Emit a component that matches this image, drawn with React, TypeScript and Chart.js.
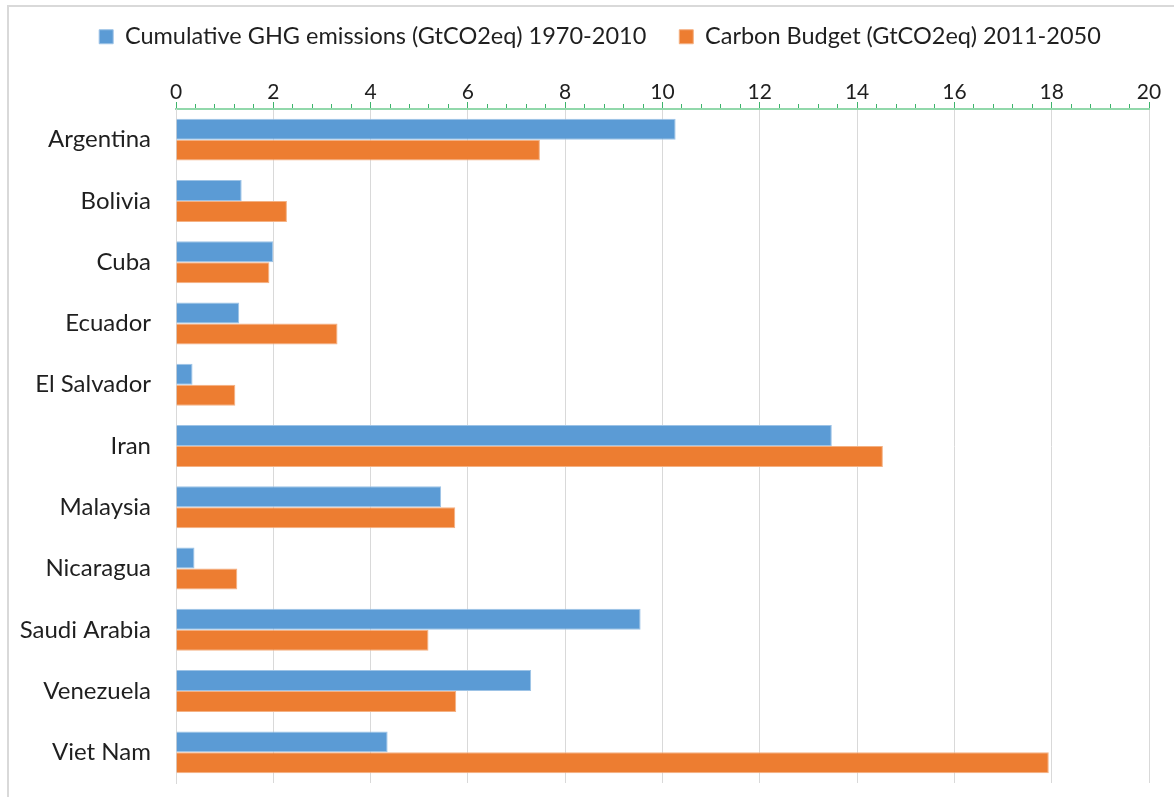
import React, { useEffect, useRef } from "react";
import { Chart, registerables } from "chart.js";

Chart.register(...registerables);

const categories = [
  "Argentina",
  "Bolivia",
  "Cuba",
  "Ecuador",
  "El Salvador",
  "Iran",
  "Malaysia",
  "Nicaragua",
  "Saudi Arabia",
  "Venezuela",
  "Viet Nam",
];
const cumulativeEmissions = [10.27, 1.35, 2.0, 1.3, 0.34, 13.48, 5.45, 0.38, 9.55, 7.3, 4.35];
const carbonBudget = [7.48, 2.28, 1.92, 3.32, 1.22, 14.53, 5.74, 1.26, 5.19, 5.76, 17.94];
const seriesNames = [
  "Cumulative GHG emissions (GtCO2eq) 1970-2010",
  "Carbon Budget (GtCO2eq) 2011-2050",
];
const xMin = 0;
const xMax = 20;
const majorStep = 2;
const minorStep = 0.4;

const FONT = "Lato";
const TEXT = "#1f1f1f";

const isMajor = (v: number) => Math.abs(v / majorStep - Math.round(v / majorStep)) < 1e-6;

const legendShift = {
  id: "legendShift",
  afterLayout(chart: any) {
    const lg = chart.legend;
    if (!lg) return;
    lg.left += 20.5;
    lg.right += 20.5;
    lg.top -= 8;
    lg.bottom -= 8;
  },
};

export default function App() {
  const ref = useRef<HTMLCanvasElement | null>(null);

  useEffect(() => {
    if (!ref.current) return;
    const chart = new Chart(ref.current, {
      type: "bar",
      data: {
        labels: categories,
        datasets: [
          {
            label: seriesNames[0],
            data: cumulativeEmissions,
            backgroundColor: "#5b9bd5",
            borderColor: "#9dc3e6",
            borderWidth: 1,
            categoryPercentage: 0.685,
            barPercentage: 1,
          },
          {
            label: seriesNames[1],
            data: carbonBudget,
            backgroundColor: "#ed7d31",
            borderColor: "#f4b183",
            borderWidth: 1,
            categoryPercentage: 0.685,
            barPercentage: 1,
          },
        ],
      },
      plugins: [legendShift],
      options: {
        indexAxis: "y",
        animation: false,
        responsive: false,
        maintainAspectRatio: false,
        layout: { padding: { left: 10, right: 25, top: 0, bottom: 14 } },
        plugins: {
          legend: {
            position: "top",
            labels: {
              boxWidth: 14,
              boxHeight: 14,
              padding: 33,
              color: TEXT,
              font: { family: FONT, size: 23.5 },
            },
          },
          tooltip: { enabled: false },
        },
        scales: {
          x: {
            position: "top",
            min: xMin,
            max: xMax,
            afterBuildTicks: (scale: any) => {
              const n = Math.round((xMax - xMin) / minorStep);
              const ticks = [];
              for (let i = 0; i <= n; i++) {
                const v = Math.round((xMin + i * minorStep) * 100) / 100;
                ticks.push({ value: v });
              }
              scale.ticks = ticks;
            },
            afterFit: (scale: any) => {
              scale.height = 42.5;
            },
            ticks: {
              autoSkip: false,
              maxRotation: 0,
              padding: -3,
              color: TEXT,
              font: { family: FONT, size: 21 },
              callback: (v: any) => (isMajor(Number(v)) ? String(Math.round(Number(v))) : ""),
            },
            grid: {
              color: (ctx: any) =>
                ctx.tick && isMajor(ctx.tick.value) ? "#d9d9d9" : "rgba(0,0,0,0)",
              tickColor: "#3db36b",
              tickLength: 7,
              tickBorderDash: (ctx: any) =>
                ctx.tick && isMajor(ctx.tick.value) ? [] : [0, 2, 20, 0],
              lineWidth: 1,
            },
            border: { color: "#92d8ab", width: 2 },
          },
          y: {
            afterFit: (scale: any) => {
              scale.width = 166;
              scale.paddingTop = 0;
              scale.paddingBottom = 0;
            },
            ticks: {
              padding: 17,
              color: TEXT,
              font: { family: FONT, size: 24 },
            },
            grid: { display: false },
            border: { display: true, color: "#d9d9d9", width: 1 },
          },
        },
      },
    });
    return () => chart.destroy();
  }, []);

  return (
    <div
      style={{
        position: "fixed",
        left: 0,
        top: 0,
        width: 1174,
        height: 797,
        overflow: "hidden",
        background: "#ffffff",
      }}
    >
      <div
        style={{
          position: "absolute",
          left: 7,
          top: 5,
          width: 1300,
          height: 900,
          borderTop: "2px solid #d9d9d9",
          borderLeft: "2px solid #d9d9d9",
          pointerEvents: "none",
        }}
      />
      <canvas
        ref={ref}
        width={1174}
        height={797}
        style={{ position: "absolute", left: 0, top: 0, width: 1174, height: 797 }}
      />
    </div>
  );
}
